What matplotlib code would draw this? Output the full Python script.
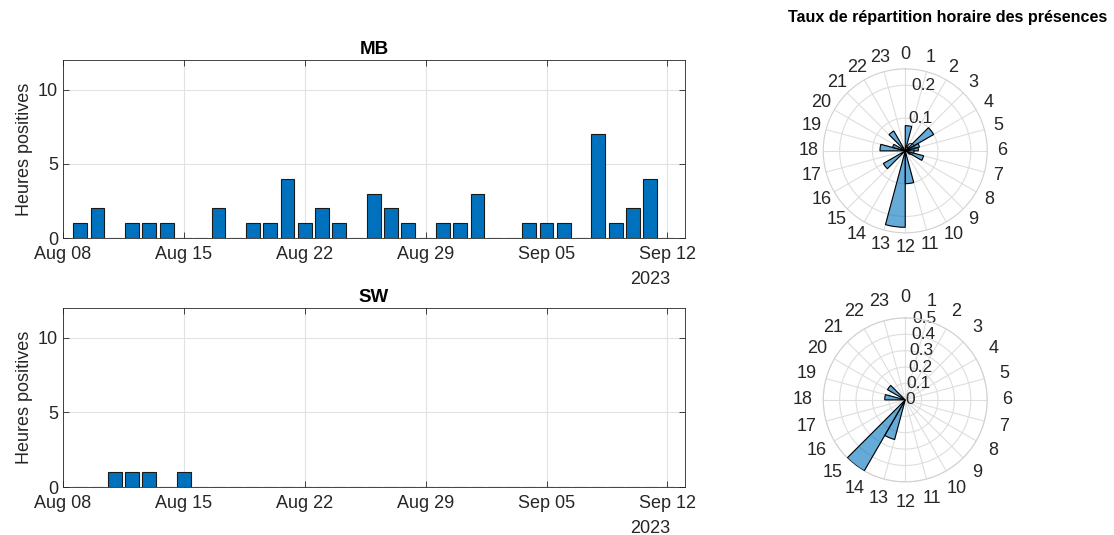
import numpy as np
import pandas as pd
import matplotlib
matplotlib.use('Agg')
import matplotlib.pyplot as plt
import matplotlib.dates as mdates

plt.rcParams['font.family'] = ['Liberation Sans', 'DejaVu Sans']

# daily positive hours, Aug 09 -> Sep 12 2023
days = pd.date_range('2023-08-09', '2023-09-12', freq='D')
mb_hours = [1, 2, 0, 1, 1, 1, 0, 0, 2, 0,
            1, 1, 4, 1, 2, 1, 0, 3, 2, 1,
            0, 1, 1, 3, 0, 0, 1, 1, 1, 0,
            7, 1, 2, 4, 0]
sw_hours = [0, 0, 1, 1, 1, 0, 1, 0, 0, 0,
            0, 0, 0, 0, 0, 0, 0, 0, 0, 0,
            0, 0, 0, 0, 0, 0, 0, 0, 0, 0,
            0, 0, 0, 0, 0]

# hourly share of detections (0h .. 23h)
hours = list(range(24))
mb_rate = [0.077, 0, 0, 0.10, 0.045, 0.04, 0, 0.058, 0, 0, 0, 0.10,
           0.233, 0, 0, 0.077, 0, 0, 0.077, 0.04, 0, 0.07, 0, 0]
sw_rate = [0, 0, 0, 0, 0, 0, 0, 0, 0, 0, 0, 0,
           0, 0.25, 0.5, 0, 0, 0, 0.125, 0, 0.125, 0, 0, 0]

dark = '#262626'
blue = '#0072BD'


def bars(ax, values, title):
    ax.bar(days, values, width=0.8, color=blue, edgecolor='#1a1a1a', linewidth=0.8, zorder=3)
    ax.set_xlim(pd.Timestamp('2023-08-08'), pd.Timestamp('2023-09-13'))
    ax.set_ylim(0, 12)
    ax.set_yticks([0, 5, 10])
    ax.set_xticks(pd.date_range('2023-08-08', '2023-09-12', freq='7D'))
    ax.xaxis.set_major_formatter(mdates.DateFormatter('%b %d'))
    ax.grid(True, color='#e2e2e2', linewidth=0.8)
    ax.set_axisbelow(True)
    ax.tick_params(direction='in', top=True, right=True, labelsize=13,
                   colors=dark, length=4, width=0.6)
    ax.tick_params(axis='x', pad=6)
    for s in ax.spines.values():
        s.set_color(dark)
        s.set_linewidth(0.6)
    ax.set_ylabel('Heures positives', fontsize=13, color=dark)
    ax.set_title(title, fontweight='bold', fontsize=13.5, pad=4)
    ax.annotate('2023', xy=(pd.Timestamp('2023-09-12'), 0),
                xycoords=('data', 'axes fraction'), xytext=(2, -30),
                textcoords='offset points', ha='right', va='center',
                fontsize=13, color=dark)


def rose(ax, rate, rmax, rticks, pad):
    theta = np.deg2rad(np.array(hours) * 15.0)
    ax.bar(theta, rate, width=np.deg2rad(15), align='edge',
           facecolor=(0, 0.447, 0.741, 0.6), edgecolor='k', linewidth=0.8, zorder=3)
    ax.set_theta_zero_location('N')
    ax.set_theta_direction(-1)
    ax.set_xticks(theta)
    ax.set_xticklabels([str(h) for h in hours])
    ax.set_ylim(0, rmax)
    ax.set_yticks(rticks)
    ax.set_yticklabels(['%g' % v for v in rticks])
    ax.set_rlabel_position(5)
    ax.grid(True, color='#dedede', linewidth=0.8)
    ax.spines['polar'].set_color('#d0d0d0')
    ax.tick_params(axis='x', pad=pad, labelsize=13, colors=dark)
    ax.tick_params(axis='y', labelsize=12.5, colors=dark)
    for lab in ax.get_yticklabels():
        lab.set_va('center')


fig = plt.figure(figsize=(11.14, 5.35), dpi=100)

ax1 = fig.add_axes([0.0566, 0.555, 0.558, 0.333])
ax2 = fig.add_axes([0.0566, 0.0897, 0.558, 0.335])
bars(ax1, mb_hours, 'MB')
bars(ax2, sw_hours, 'SW')

p1 = fig.add_axes([0.739, 0.5645, 0.1472, 0.307], projection='polar')
p2 = fig.add_axes([0.739, 0.099, 0.1472, 0.307], projection='polar')
rose(p1, mb_rate, 0.25, [0, 0.1, 0.2], pad=0)
rose(p2, sw_rate, 0.5, [0, 0.1, 0.2, 0.3, 0.4, 0.5], pad=4)

fig.text(0.8505, 0.968, 'Taux de répartition horaire des présences',
         ha='center', va='center', fontsize=11.6, fontweight='bold')

fig.savefig('out.png', dpi=100)
